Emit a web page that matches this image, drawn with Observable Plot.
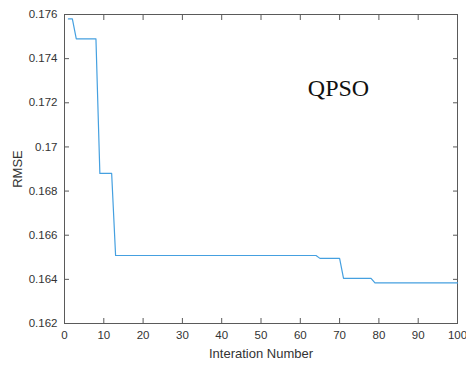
<!DOCTYPE html>
<html>
<head>
<meta charset="utf-8">
<script src="https://cdn.jsdelivr.net/npm/d3@7"></script>
<script src="https://cdn.jsdelivr.net/npm/@observablehq/plot@0.6"></script>
<style>
  html, body { margin: 0; padding: 0; background: #fff; }
</style>
</head>
<body>
<div id="chart"></div>
<script>
const xTicks = [0, 10, 20, 30, 40, 50, 60, 70, 80, 90, 100];
const yTicks = [0.162, 0.164, 0.166, 0.168, 0.170, 0.172, 0.174, 0.176];
const iterations = d3.range(1, 101);
const rmse = [
  0.17580, 0.17580,
  0.17490, 0.17490, 0.17490, 0.17490, 0.17490, 0.17490,
  0.16880, 0.16880, 0.16880, 0.16880,
  0.16508, 0.16508, 0.16508, 0.16508, 0.16508, 0.16508, 0.16508, 0.16508, 0.16508, 0.16508,
  0.16508, 0.16508, 0.16508, 0.16508, 0.16508, 0.16508, 0.16508, 0.16508, 0.16508, 0.16508,
  0.16508, 0.16508, 0.16508, 0.16508, 0.16508, 0.16508, 0.16508, 0.16508, 0.16508, 0.16508,
  0.16508, 0.16508, 0.16508, 0.16508, 0.16508, 0.16508, 0.16508, 0.16508, 0.16508, 0.16508,
  0.16508, 0.16508, 0.16508, 0.16508, 0.16508, 0.16508, 0.16508, 0.16508, 0.16508, 0.16508,
  0.16508, 0.16508,
  0.16495, 0.16495, 0.16495, 0.16495, 0.16495, 0.16495,
  0.16404, 0.16404, 0.16404, 0.16404, 0.16404, 0.16404, 0.16404, 0.16404,
  0.16384, 0.16384, 0.16384, 0.16384, 0.16384, 0.16384, 0.16384, 0.16384, 0.16384, 0.16384,
  0.16384, 0.16384, 0.16384, 0.16384, 0.16384, 0.16384, 0.16384, 0.16384, 0.16384, 0.16384,
  0.16384, 0.16384
];
const annotation = ["QPSO"];
const xLabel = "Interation Number";
const yLabel = "RMSE";

const data = iterations.map((it, i) => ({iteration: it, rmse: rmse[i]}));
const axisColor = "#5a5a5a";
const textColor = "#333";

const chart = Plot.plot({
  width: 466,
  height: 365,
  marginLeft: 64,
  marginRight: 9,
  marginTop: 14,
  marginBottom: 42,
  x: {domain: [0, 100]},
  y: {domain: [0.162, 0.176]},
  style: {fontFamily: "'Liberation Sans', Arial, sans-serif", fontSize: "11.5px", color: textColor, background: "#fff"},
  marks: [
    Plot.frame({stroke: axisColor, strokeWidth: 1}),
    Plot.axisX({ticks: xTicks, tickSize: -5, tickPadding: 12, stroke: axisColor, fill: textColor, fontSize: 11.5, label: null}),
    Plot.axisX({ticks: [], tickSize: 0, label: xLabel, labelAnchor: "center", labelArrow: "none", labelOffset: 34, fontSize: 13, fill: textColor}),
    Plot.axisX({anchor: "top", ticks: xTicks, tickSize: -5, tickFormat: () => "", stroke: axisColor, label: null}),
    Plot.axisY({ticks: yTicks, tickSize: -5, tickPadding: 12, tickFormat: d3.format(".3~f"), stroke: axisColor, fill: textColor, fontSize: 11.5, label: null}),
    Plot.axisY({ticks: [], tickSize: 0, label: yLabel, labelAnchor: "center", labelArrow: "none", labelOffset: 52, fontSize: 13, fill: textColor}),
    Plot.axisY({anchor: "right", ticks: yTicks, tickSize: -5, tickFormat: () => "", stroke: axisColor, label: null}),
    Plot.line(data, {x: "iteration", y: "rmse", stroke: "#45a0e0", strokeWidth: 1.2}),
    Plot.text(annotation, {frameAnchor: "top-left", dx: 274, dy: 74, text: d => d,
      fontFamily: "'Liberation Serif', 'Times New Roman', serif", fontSize: 24, fill: "#111",
      textAnchor: "middle", lineAnchor: "middle"})
  ]
});
document.getElementById("chart").appendChild(chart);
</script>
</body>
</html>
